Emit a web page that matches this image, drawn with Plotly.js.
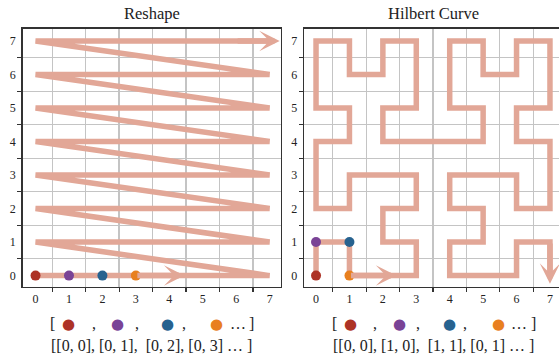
<!DOCTYPE html>
<html>
<head>
<meta charset="utf-8">
<script src="https://cdn.plot.ly/plotly-3.0.1.min.js"></script>
<style>
html,body{margin:0;padding:0;overflow:hidden;background:#fff;}
#chart{width:563px;height:356px;}
</style>
</head>
<body>
<div id="chart"></div>
<script>
// ---- data ----
const tickLabels = [0, 1, 2, 3, 4, 5, 6, 7];
const gridVals = [0.5, 1.5, 2.5, 3.5, 4.5, 5.5, 6.5];

// Reshape order (row-major): x = column, y = row
const reshapeX = [0,1,2,3,4,5,6,7, 0,1,2,3,4,5,6,7, 0,1,2,3,4,5,6,7, 0,1,2,3,4,5,6,7,
                  0,1,2,3,4,5,6,7, 0,1,2,3,4,5,6,7, 0,1,2,3,4,5,6,7, 0,1,2,3,4,5,6,7];
const reshapeY = [0,0,0,0,0,0,0,0, 1,1,1,1,1,1,1,1, 2,2,2,2,2,2,2,2, 3,3,3,3,3,3,3,3,
                  4,4,4,4,4,4,4,4, 5,5,5,5,5,5,5,5, 6,6,6,6,6,6,6,6, 7,7,7,7,7,7,7,7];

// Hilbert curve order
const hilbertX = [0,0,1,1,2,3,3,2,2,3,3,2,1,1,0,0,
                  0,1,1,0,0,0,1,1,2,2,3,3,3,2,2,3,
                  4,5,5,4,4,4,5,5,6,6,7,7,7,6,6,7,
                  7,7,6,6,5,4,4,5,5,4,4,5,6,6,7,7];
const hilbertY = [0,1,1,0,0,0,1,1,2,2,3,3,3,2,2,3,
                  4,4,5,5,6,7,7,6,6,7,7,6,5,5,4,4,
                  4,4,5,5,6,7,7,6,6,7,7,6,5,5,4,4,
                  3,2,2,3,3,3,2,2,1,1,0,0,0,1,1,0];

const markerColors = ['#ad3326', '#7a4396', '#27628f', '#e8801f'];

// arrows: [tailX, tailY, tipX, tipY]
const reshapeArrows = [[6, 7, 7.3, 7], [3, 0, 4.45, 0]];
const hilbertArrows = [[7, 1, 7, -0.24], [1, 0, 2.4, 0]];

const captionLeft = '[[0, 0], [0, 1],  [0, 2], [0, 3] … ]';
const captionRight = '[[0, 0], [1, 0],  [1, 1], [0, 1] … ]';

// ---- styling ----
const W = 563, H = 356;
const pathColor = '#e2a797';
const serif = 'Liberation Serif, Times New Roman, serif';
const txt = '#222';

function px(x){ return x / W; }
function py(y){ return (H - y) / H; }

const leftDom = [px(22.5), px(281)];
const rightDom = [px(304), 1];
const yDom = [py(287), py(28.5)];

function xAxis(dom, range, anchor){
  return {
    domain: dom, range: range, anchor: anchor,
    tickmode: 'array', tickvals: tickLabels, ticktext: tickLabels.map(String),
    ticks: '', showgrid: false, zeroline: false,
    showline: true, mirror: true, linecolor: '#333', linewidth: 1.3,
    tickfont: {family: serif, size: 12, color: txt},
    minor: {tickmode: 'array', tickvals: gridVals, ticks: 'outside', ticklen: 4,
            tickwidth: 1.2, tickcolor: '#333', showgrid: true,
            gridcolor: '#c4c4c4', gridwidth: 1.3},
    fixedrange: true
  };
}
function yAxis(anchor){
  return {
    domain: yDom, range: [-0.34, 7.37], anchor: anchor,
    tickmode: 'array', tickvals: tickLabels, ticktext: tickLabels.map(String),
    ticks: '', showgrid: false, zeroline: false,
    showline: true, mirror: true, linecolor: '#333', linewidth: 1.3,
    tickfont: {family: serif, size: 12, color: txt},
    ticklabelstandoff: 3,
    minor: {tickmode: 'array', tickvals: gridVals, ticks: 'outside', ticklen: 4,
            tickwidth: 1.2, tickcolor: '#333', showgrid: true,
            gridcolor: '#c4c4c4', gridwidth: 1.3},
    fixedrange: true
  };
}

const traces = [
  {x: reshapeX, y: reshapeY, xaxis: 'x', yaxis: 'y', mode: 'lines',
   line: {color: pathColor, width: 5.5}, hoverinfo: 'skip', showlegend: false},
  {x: reshapeX.slice(0, 4), y: reshapeY.slice(0, 4), xaxis: 'x', yaxis: 'y', mode: 'markers',
   marker: {color: markerColors, size: 10}, hoverinfo: 'skip', showlegend: false},
  {x: hilbertX, y: hilbertY, xaxis: 'x2', yaxis: 'y2', mode: 'lines',
   line: {color: pathColor, width: 5.5}, hoverinfo: 'skip', showlegend: false},
  {x: hilbertX.slice(0, 4), y: hilbertY.slice(0, 4), xaxis: 'x2', yaxis: 'y2', mode: 'markers',
   marker: {color: markerColors, size: 10}, hoverinfo: 'skip', showlegend: false}
];

const annotations = [];
function arrows(list, xr, yr){
  list.forEach(a => annotations.push({
    xref: xr, yref: yr, axref: xr, ayref: yr,
    ax: a[0], ay: a[1], x: a[2], y: a[3], text: '',
    showarrow: true, arrowhead: 3, arrowsize: 0.62, arrowwidth: 5.5,
    arrowcolor: pathColor, standoff: 0, startstandoff: 0
  }));
}
arrows(reshapeArrows, 'x', 'y');
arrows(hilbertArrows, 'x2', 'y2');

// titles
[['Reshape', 151.75], ['Hilbert Curve', 433]].forEach(t => annotations.push({
  xref: 'paper', yref: 'paper', x: px(t[1]), y: py(14), xanchor: 'center', yanchor: 'middle',
  text: t[0], showarrow: false, font: {family: serif, size: 16.5, color: txt}
}));

// captions
function caption(cx, line2){
  const pieces = [['[', -99], [',', -58], [',', -15], [',', 32], ['…', 86], [']', 100]];
  pieces.forEach(p => annotations.push({
    xref: 'paper', yref: 'paper', x: px(cx + p[1]), y: py(323), xanchor: 'center', yanchor: 'middle',
    text: p[0], showarrow: false, font: {family: serif, size: 16, color: txt}
  }));
  [-83, -34, 16, 65].forEach((o, i) => annotations.push({
    xref: 'paper', yref: 'paper', x: px(cx + o), y: py(324), xanchor: 'center', yanchor: 'middle',
    text: '●', showarrow: false, font: {family: 'DejaVu Sans', size: 15, color: markerColors[i]}
  }));
  annotations.push({
    xref: 'paper', yref: 'paper', x: px(cx), y: py(345), xanchor: 'center', yanchor: 'middle',
    text: line2.replace(/ /g, '\u00a0'), showarrow: false, font: {family: serif, size: 16, color: txt}
  });
}
caption(151.75, captionLeft);
caption(433, captionRight);

const layout = {
  width: W, height: H,
  margin: {l: 0, r: 0, t: 0, b: 0, pad: 0},
  paper_bgcolor: '#fff', plot_bgcolor: '#fff',
  xaxis: xAxis(leftDom, [-0.39, 7.34], 'y'),
  yaxis: yAxis('x'),
  xaxis2: xAxis(rightDom, [-0.36, 7.39], 'y2'),
  yaxis2: yAxis('x2'),
  annotations: annotations,
  showlegend: false
};

Plotly.newPlot('chart', traces, layout, {displayModeBar: false, staticPlot: true});
</script>
</body>
</html>
